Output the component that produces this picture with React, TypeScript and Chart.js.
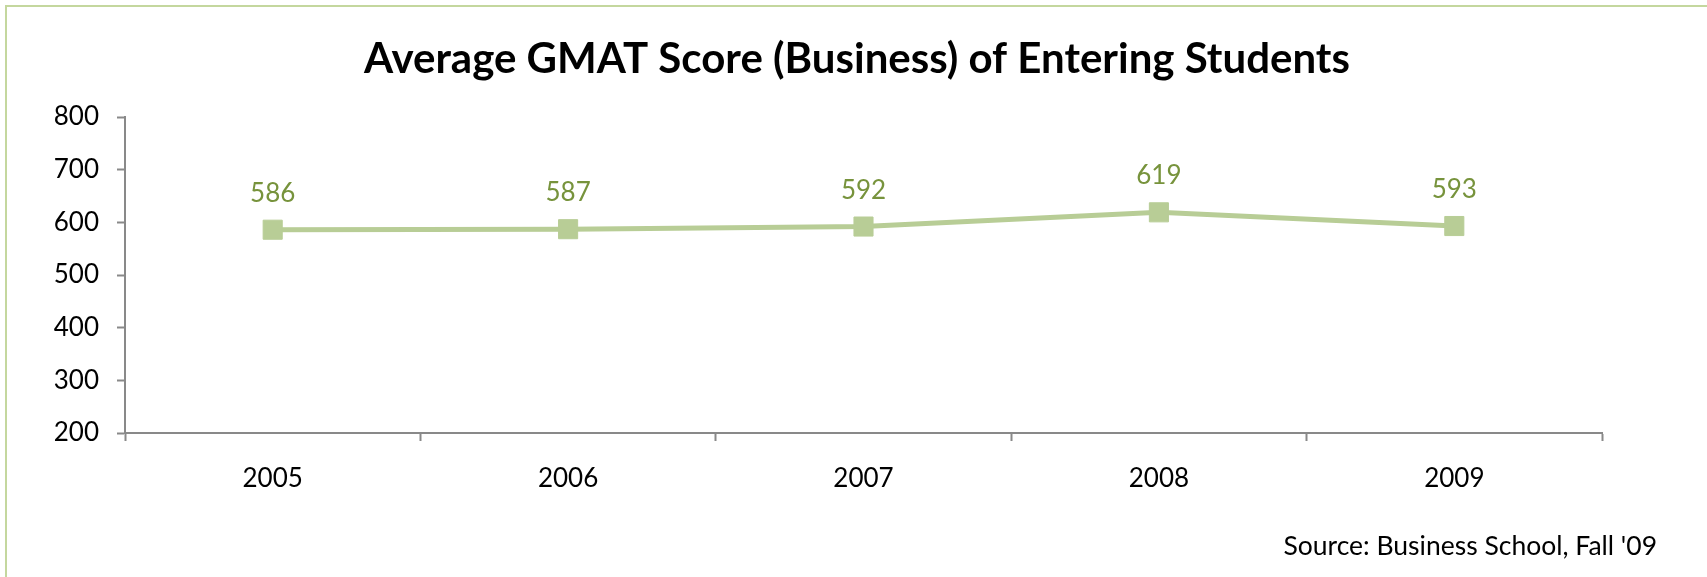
import React, { useEffect, useRef } from "react";
import { Chart, registerables } from "chart.js";

Chart.register(...registerables);

const categories = ["2005", "2006", "2007", "2008", "2009"];
const gmatScores = [586, 587, 592, 619, 593];
const yMin = 200;
const yMax = 800;
const yStep = 100;
const titleText = "Average GMAT Score (Business) of Entering Students";
const sourceText = "Source: Business School, Fall '09";

const W = 1707;
const H = 577;
const FONT = "Lato, 'Open Sans', 'DejaVu Sans', sans-serif";
const LINE_COLOR = "#B8CD96";
const LABEL_COLOR = "#77933C";
const AXIS_COLOR = "#898989";
const FRAME_COLOR = "#C4D79E";

const overlayPlugin = {
  id: "overlay",
  beforeDraw(chart: any) {
    const ctx = chart.ctx;
    ctx.save();
    ctx.fillStyle = "#ffffff";
    ctx.fillRect(0, 0, chart.width, chart.height);
    ctx.strokeStyle = FRAME_COLOR;
    ctx.lineWidth = 2;
    ctx.strokeRect(6, 6, chart.width + 10, chart.height + 10);
    ctx.restore();
  },
  afterDatasetsDraw(chart: any) {
    const ctx = chart.ctx;
    const meta = chart.getDatasetMeta(0);
    const data = chart.data.datasets[0].data;
    ctx.save();
    ctx.font = `26px ${FONT}`;
    ctx.fillStyle = LABEL_COLOR;
    ctx.textAlign = "center";
    ctx.textBaseline = "alphabetic";
    meta.data.forEach((pt: any, i: number) => {
      ctx.fillText(String(data[i]), pt.x, pt.y - 28);
    });
    ctx.restore();
  },
  afterDraw(chart: any) {
    const ctx = chart.ctx;
    ctx.save();
    ctx.fillStyle = "#000000";
    ctx.textBaseline = "alphabetic";
    ctx.textAlign = "center";
    ctx.font = `bold 42px ${FONT}`;
    ctx.fillText(titleText, 857, 73);
    ctx.textAlign = "right";
    ctx.font = `26.5px ${FONT}`;
    ctx.fillText(sourceText, 1657, 555);
    ctx.restore();
  },
};

export default function App() {
  const canvasRef = useRef<HTMLCanvasElement | null>(null);

  useEffect(() => {
    document.body.style.margin = "0";
    const canvas = canvasRef.current;
    if (!canvas) return;
    const chart = new Chart(canvas, {
      type: "line",
      data: {
        labels: categories,
        datasets: [
          {
            label: "Average GMAT Score",
            data: gmatScores,
            borderColor: LINE_COLOR,
            backgroundColor: LINE_COLOR,
            borderWidth: 5,
            pointStyle: "rect",
            pointRadius: 13.5,
            pointBorderWidth: 1,
            pointBorderColor: LINE_COLOR,
            pointBackgroundColor: LINE_COLOR,
            tension: 0,
          },
        ],
      },
      options: {
        responsive: false,
        animation: false,
        devicePixelRatio: 1,
        layout: { padding: { left: 0, top: 117, right: 105, bottom: 64 } },
        plugins: {
          legend: { display: false },
          title: { display: false },
          tooltip: { enabled: false },
        },
        scales: {
          x: {
            type: "category",
            offset: true,
            afterFit: (scale: any) => {
              scale.height = 80;
            },
            grid: {
              offset: true,
              drawOnChartArea: false,
              drawTicks: true,
              tickLength: 8,
              tickColor: AXIS_COLOR,
              tickWidth: 2,
            },
            border: { display: true, color: AXIS_COLOR, width: 2 },
            ticks: {
              color: "#000000",
              font: { family: FONT, size: 26 },
              padding: 22,
              maxRotation: 0,
            },
          },
          y: {
            type: "linear",
            min: yMin,
            max: yMax,
            afterFit: (scale: any) => {
              scale.width = 125;
            },
            grid: {
              drawOnChartArea: false,
              drawTicks: true,
              tickLength: 8,
              tickColor: AXIS_COLOR,
              tickWidth: 2,
            },
            border: { display: true, color: AXIS_COLOR, width: 2 },
            ticks: {
              stepSize: yStep,
              color: "#000000",
              font: { family: FONT, size: 26 },
              padding: 18,
            },
          },
        },
      },
      plugins: [overlayPlugin],
    });
    return () => chart.destroy();
  }, []);

  return (
    <div style={{ position: "absolute", left: 0, top: 0, width: W, height: H }}>
      <canvas ref={canvasRef} width={W} height={H} style={{ display: "block", width: W, height: H }} />
    </div>
  );
}
